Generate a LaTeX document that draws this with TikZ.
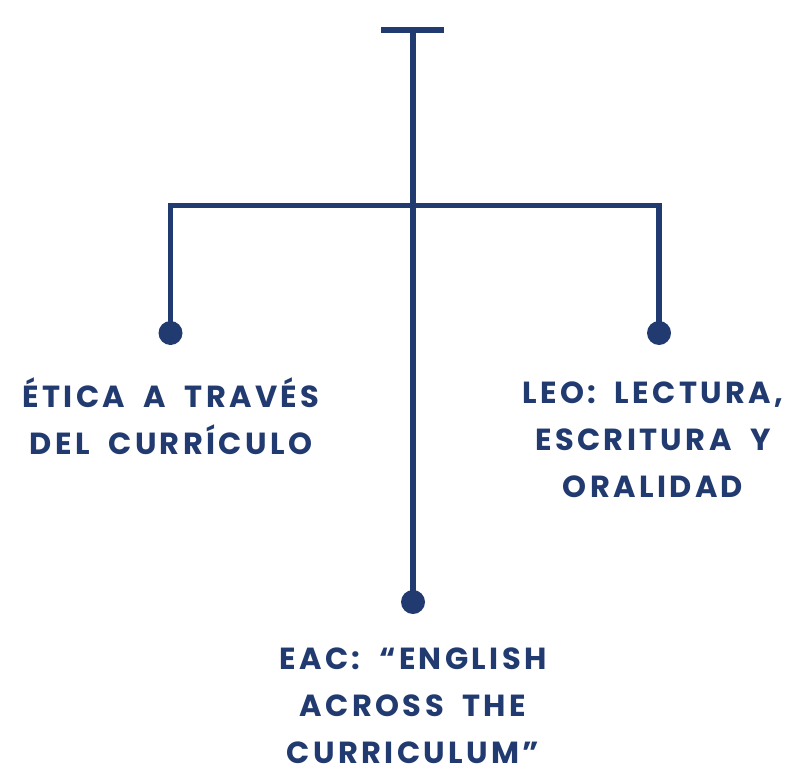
\documentclass[tikz,border=0pt]{standalone}
\usepackage{fontspec}
\newfontfamily\labfont{Poppins}[LetterSpace=11,WordSpace=1.9]
\definecolor{navy}{HTML}{213A70}
\begin{document}
\begin{tikzpicture}[x=1pt,y=-1pt,
  conn/.style={draw=navy,line width=5.5pt},
  dot/.style={circle,fill=navy,inner sep=0pt,minimum size=24pt},
  lab/.style={text=navy,align=center,inner sep=0pt,font=\labfont\bfseries\fontsize{30.5}{47}\selectfont}]
\useasboundingbox (0,0) rectangle (797,773);
\coordinate (tl) at (381,30);
\coordinate (tr) at (444,30);
\coordinate (top) at (413,30);
\coordinate (j) at (413,205.5);
\node[dot] (dL) at (170.5,333) {};
\node[dot] (dR) at (659,333) {};
\node[dot] (dB) at (413,602) {};
\draw[conn] (tl) -- (tr);
\draw[conn] (top) -- (dB.center);
\draw[conn] (dL.center) |- (j) -| (dR.center);
\node[lab] (tL) at (171,416.5) {ÉTICA A TRAVÉS\\DEL CURRÍCULO};
\node[lab] (tR) at (653,440) {LEO: LECTURA,\\ESCRITURA Y\\ORALIDAD};
\node[lab] (tB) at (413,706) {EAC: “ENGLISH\\ACROSS THE\\CURRICULUM”};
\end{tikzpicture}
\end{document}
